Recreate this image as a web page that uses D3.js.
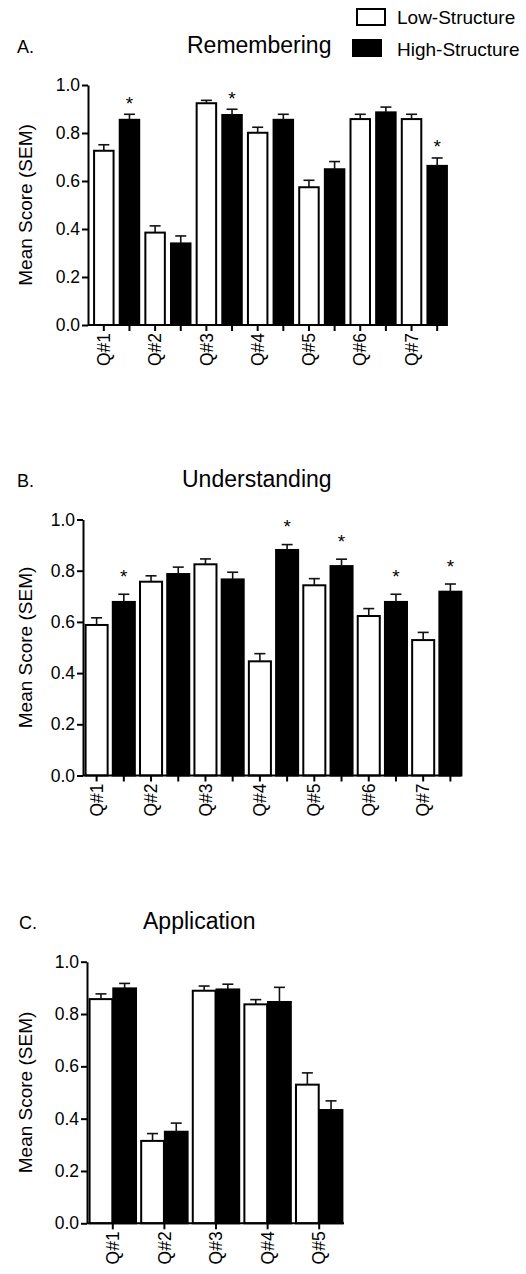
<!DOCTYPE html>
<html>
<head>
<meta charset="utf-8">
<script src="https://cdn.jsdelivr.net/npm/d3@7"></script>
<style>
    body { margin: 0; background: #fff; }
    svg { display: block; font-family: "Liberation Sans", Arial, sans-serif; }
</style>
</head>
<body>
<script>
// Data
const series = ["Low-Structure", "High-Structure"];
const yTicks = [0, 0.2, 0.4, 0.6, 0.8, 1.0];

// A. Remembering
const remQuestions = ["Q#1", "Q#2", "Q#3", "Q#4", "Q#5", "Q#6", "Q#7"];
const remLow = [0.726, 0.385, 0.924, 0.801, 0.574, 0.858, 0.858];
const remLowSem = [0.025, 0.028, 0.012, 0.023, 0.029, 0.020, 0.020];
const remHigh = [0.855, 0.340, 0.875, 0.855, 0.649, 0.886, 0.663];
const remHighSem = [0.023, 0.031, 0.024, 0.023, 0.032, 0.022, 0.033];
const remSig = [true, false, true, false, false, false, true];

// B. Understanding
const undQuestions = ["Q#1", "Q#2", "Q#3", "Q#4", "Q#5", "Q#6", "Q#7"];
const undLow = [0.588, 0.757, 0.825, 0.446, 0.743, 0.623, 0.529];
const undLowSem = [0.028, 0.023, 0.021, 0.030, 0.026, 0.029, 0.030];
const undHigh = [0.678, 0.787, 0.766, 0.881, 0.818, 0.678, 0.718];
const undHighSem = [0.030, 0.027, 0.028, 0.021, 0.027, 0.030, 0.030];
const undSig = [true, false, false, true, true, true, true];

// C. Application
const appQuestions = ["Q#1", "Q#2", "Q#3", "Q#4", "Q#5"];
const appLow = [0.857, 0.315, 0.889, 0.837, 0.530];
const appLowSem = [0.020, 0.028, 0.018, 0.018, 0.045];
const appHigh = [0.898, 0.350, 0.894, 0.846, 0.433];
const appHighSem = [0.019, 0.033, 0.020, 0.056, 0.035];
const appSig = [false, false, false, false, false];

const svg = d3.select("body").append("svg")
    .attr("width", 526)
    .attr("height", 1274);

function drawPanel(cfg, questions, low, lowSem, high, highSem, sig) {
    const g = svg.append("g");
    const y = d3.scaleLinear().domain([0, 1]).range([cfg.y0, cfg.y1]);

    // x scales: one tick per bar (A, B) or per question (C)
    let barX, barW, xAxisScale, tickFmt;
    if (cfg.grouped) {
        const x0 = d3.scaleBand().domain(questions).range(cfg.range)
            .paddingInner(0.1).paddingOuter(0.05);
        const x1 = d3.scaleBand().domain(["low", "high"]).range([0, x0.bandwidth()])
            .paddingInner(0.04);
        barX = (i, s) => x0(questions[i]) + x1(s);
        barW = x1.bandwidth();
        xAxisScale = x0;
        tickFmt = d => d;
    } else {
        const keys = questions.flatMap(q => [q + "|low", q + "|high"]);
        const x = d3.scaleBand().domain(keys).range(cfg.range)
            .paddingInner(cfg.pad).paddingOuter(cfg.pad / 2);
        barX = (i, s) => x(questions[i] + "|" + s);
        barW = x.bandwidth();
        xAxisScale = x;
        tickFmt = k => k.endsWith("|low") ? k.split("|")[0] : "";
    }

    const rows = questions.map((q, i) => [
        { i, s: "low", v: low[i], e: lowSem[i], sig: false },
        { i, s: "high", v: high[i], e: highSem[i], sig: sig[i] }
    ]).flat();

    // bars
    g.selectAll("rect.bar")
        .data(rows)
        .enter()
        .append("rect")
        .attr("class", "bar")
        .attr("x", d => barX(d.i, d.s))
        .attr("y", d => y(d.v))
        .attr("width", barW)
        .attr("height", d => cfg.y0 - y(d.v))
        .attr("fill", d => d.s === "low" ? "#fff" : "#000")
        .attr("stroke", "#000")
        .attr("stroke-width", 2);

    // error bars (upper half only)
    const err = g.selectAll("g.err")
        .data(rows)
        .enter()
        .append("g")
        .attr("class", "err")
        .attr("stroke", "#111")
        .attr("stroke-width", 1.6);
    err.append("line")
        .attr("x1", d => barX(d.i, d.s) + barW / 2)
        .attr("x2", d => barX(d.i, d.s) + barW / 2)
        .attr("y1", d => y(d.v))
        .attr("y2", d => y(d.v + d.e));
    err.append("line")
        .attr("x1", d => barX(d.i, d.s) + barW / 2 - 5.5)
        .attr("x2", d => barX(d.i, d.s) + barW / 2 + 5.5)
        .attr("y1", d => y(d.v + d.e))
        .attr("y2", d => y(d.v + d.e));

    // significance stars
    g.selectAll("text.star")
        .data(rows.filter(d => d.sig))
        .enter()
        .append("text")
        .attr("class", "star")
        .attr("x", d => barX(d.i, d.s) + barW / 2)
        .attr("y", d => y(d.v + d.e) - cfg.starGap + 10.5)
        .attr("text-anchor", "middle")
        .attr("font-size", 19)
        .attr("fill", "#000")
        .text("*");

    // y axis
    const yAxis = d3.axisLeft(y).tickValues(yTicks).tickFormat(d3.format(".1f"))
        .tickSize(6).tickSizeOuter(0).tickPadding(2);
    const ya = g.append("g")
        .attr("transform", `translate(${cfg.axisX},0)`)
        .call(yAxis);
    ya.select(".domain").attr("stroke-width", 2);
    ya.selectAll(".tick line").attr("stroke-width", 2);
    ya.selectAll(".tick text").attr("font-size", 17.5).attr("font-family", null).attr("fill", "#000");

    // x axis
    const xAxis = d3.axisBottom(xAxisScale).tickFormat(tickFmt).tickSize(6).tickSizeOuter(0);
    const xa = g.append("g")
        .attr("transform", `translate(0,${cfg.y0})`)
        .call(xAxis);
    xa.select(".domain").remove();
    xa.append("line")
        .attr("x1", cfg.axisX)
        .attr("x2", cfg.xEnd)
        .attr("stroke", "#000")
        .attr("stroke-width", 2);
    xa.selectAll(".tick line").attr("stroke-width", 2);
    xa.selectAll(".tick text")
        .attr("font-size", 17.5)
        .attr("font-family", null)
        .attr("fill", "#000")
        .attr("transform", "rotate(-90)")
        .attr("x", -8)
        .attr("y", 0)
        .attr("dy", "0.35em")
        .style("text-anchor", "end");

    // y label
    g.append("text")
        .attr("transform", `translate(32,${(cfg.y0 + cfg.y1) / 2}) rotate(-90)`)
        .attr("text-anchor", "middle")
        .attr("font-size", 19)
        .text("Mean Score (SEM)");

    // panel letter and title
    g.append("text")
        .attr("x", cfg.letterX)
        .attr("y", cfg.titleY)
        .attr("font-size", 18)
        .text(cfg.letter);
    g.append("text")
        .attr("x", cfg.titleX)
        .attr("y", cfg.titleY)
        .attr("font-size", 23)
        .text(cfg.title);
}

drawPanel({ letter: "A.", title: "Remembering", letterX: 17, titleX: 187, titleY: 53,
    axisX: 88, y0: 325, y1: 85, range: [91, 450], pad: 0.24, xEnd: 447, starGap: 15 },
    remQuestions, remLow, remLowSem, remHigh, remHighSem, remSig);

drawPanel({ letter: "B.", title: "Understanding", letterX: 17, titleX: 182, titleY: 487,
    axisX: 83, y0: 775.5, y1: 519.5, range: [83, 464], pad: 0.19, xEnd: 461, starGap: 22 },
    undQuestions, undLow, undLowSem, undHigh, undHighSem, undSig);

drawPanel({ letter: "C.", title: "Application", letterX: 19, titleX: 143, titleY: 929,
    axisX: 87, y0: 1223.3, y1: 961.7, range: [87, 345], grouped: true, xEnd: 344, starGap: 18 },
    appQuestions, appLow, appLowSem, appHigh, appHighSem, appSig);

// legend
const legend = svg.append("g");
const legendItems = [
    { name: series[0], fill: "#fff", bx: 357, by: 9, ty: 24 },
    { name: series[1], fill: "#000", bx: 353, by: 40, ty: 56 }
];
legendItems.forEach(d => {
    legend.append("rect")
        .attr("x", d.bx)
        .attr("y", d.by)
        .attr("width", 28)
        .attr("height", 16)
        .attr("fill", d.fill)
        .attr("stroke", "#000")
        .attr("stroke-width", 2);
    legend.append("text")
        .attr("x", 397)
        .attr("y", d.ty)
        .attr("font-size", 19)
        .text(d.name);
});
</script>
</body>
</html>
